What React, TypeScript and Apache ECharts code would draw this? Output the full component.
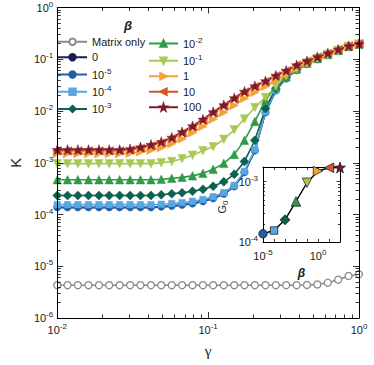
import React, { useEffect, useRef } from "react";
import * as echarts from "echarts";

// gamma sample points (x)
const gamma = [
  0.01, 0.0117, 0.0137, 0.0161, 0.0189, 0.0221, 0.0259, 0.0304, 0.0356, 0.0418,
  0.0489, 0.0574, 0.0672, 0.0788, 0.0924, 0.108, 0.127, 0.149, 0.174, 0.204,
  0.24, 0.281, 0.329, 0.386, 0.452, 0.53, 0.621, 0.728, 0.853, 1.0,
];

const kMatrix = [
  4.3e-6, 4.3e-6, 4.3e-6, 4.3e-6, 4.3e-6, 4.3e-6, 4.3e-6, 4.3e-6, 4.3e-6, 4.3e-6,
  4.3e-6, 4.3e-6, 4.3e-6, 4.3e-6, 4.3e-6, 4.3e-6, 4.3e-6, 4.3e-6, 4.3e-6, 4.3e-6,
  4.3e-6, 4.3e-6, 4.3e-6, 4.3e-6, 4.35e-6, 4.45e-6, 4.8e-6, 5.5e-6, 6.5e-6, 7.0e-6,
];
const kBeta0 = [
  1.36e-4, 1.36e-4, 1.36e-4, 1.36e-4, 1.36e-4, 1.36e-4, 1.36e-4, 1.36e-4, 1.36e-4, 1.36e-4,
  1.4e-4, 1.45e-4, 1.52e-4, 1.62e-4, 1.78e-4, 2.04e-4, 2.48e-4, 3.45e-4, 6.4e-4, 1.7e-3,
  9.3e-3, 2.48e-2, 4.24e-2, 6.2e-2, 8.1e-2, 0.101, 0.123, 0.147, 0.176, 0.196,
];
const kBeta1e5 = [
  1.38e-4, 1.38e-4, 1.38e-4, 1.38e-4, 1.38e-4, 1.38e-4, 1.38e-4, 1.38e-4, 1.38e-4, 1.38e-4,
  1.42e-4, 1.47e-4, 1.54e-4, 1.64e-4, 1.8e-4, 2.06e-4, 2.51e-4, 3.5e-4, 6.53e-4, 1.73e-3,
  9.4e-3, 2.5e-2, 4.26e-2, 6.21e-2, 8.1e-2, 0.101, 0.124, 0.148, 0.177, 0.197,
];
const kBeta1e4 = [
  1.55e-4, 1.55e-4, 1.55e-4, 1.55e-4, 1.55e-4, 1.55e-4, 1.55e-4, 1.55e-4, 1.55e-4, 1.55e-4,
  1.58e-4, 1.63e-4, 1.7e-4, 1.8e-4, 1.95e-4, 2.2e-4, 2.65e-4, 3.65e-4, 6.8e-4, 1.8e-3,
  9.6e-3, 2.52e-2, 4.28e-2, 6.25e-2, 8.15e-2, 0.102, 0.124, 0.148, 0.177, 0.197,
];
const kBeta1e3 = [
  2.33e-4, 2.33e-4, 2.33e-4, 2.33e-4, 2.33e-4, 2.33e-4, 2.33e-4, 2.33e-4, 2.33e-4, 2.33e-4,
  2.4e-4, 2.51e-4, 2.62e-4, 2.81e-4, 3.06e-4, 3.5e-4, 4.28e-4, 5.97e-4, 1.06e-3, 2.71e-3,
  1.12e-2, 2.73e-2, 4.46e-2, 6.36e-2, 8.3e-2, 0.102, 0.124, 0.148, 0.177, 0.197,
];
const kBeta1e2 = [
  4.7e-4, 4.7e-4, 4.7e-4, 4.7e-4, 4.7e-4, 4.7e-4, 4.7e-4, 4.7e-4, 4.7e-4, 4.7e-4,
  4.78e-4, 5.0e-4, 5.22e-4, 5.58e-4, 6.24e-4, 7.46e-4, 9.73e-4, 1.45e-3, 2.71e-3, 6.3e-3,
  1.6e-2, 2.99e-2, 4.66e-2, 6.5e-2, 8.4e-2, 0.103, 0.124, 0.148, 0.177, 0.197,
];
const kBeta1e1 = [
  9.6e-4, 9.6e-4, 9.6e-4, 9.6e-4, 9.6e-4, 9.6e-4, 9.6e-4, 9.6e-4, 9.6e-4, 9.6e-4,
  9.96e-4, 1.06e-3, 1.19e-3, 1.39e-3, 1.7e-3, 2.03e-3, 2.83e-3, 4.32e-3, 7.03e-3, 1.17e-2,
  1.83e-2, 3.05e-2, 4.76e-2, 6.5e-2, 8.48e-2, 0.104, 0.124, 0.148, 0.177, 0.197,
];
const kBeta1 = [
  1.5e-3, 1.5e-3, 1.5e-3, 1.5e-3, 1.5e-3, 1.5e-3, 1.5e-3, 1.53e-3, 1.62e-3, 1.75e-3,
  1.94e-3, 2.32e-3, 2.89e-3, 3.78e-3, 5.04e-3, 6.89e-3, 9.4e-3, 1.28e-2, 1.75e-2, 2.29e-2,
  2.99e-2, 3.9e-2, 5.09e-2, 6.65e-2, 8.48e-2, 0.104, 0.124, 0.148, 0.177, 0.197,
];
const kBeta10 = [
  1.7e-3, 1.7e-3, 1.7e-3, 1.7e-3, 1.7e-3, 1.7e-3, 1.7e-3, 1.76e-3, 1.91e-3, 2.13e-3,
  2.43e-3, 2.94e-3, 3.76e-3, 4.9e-3, 6.6e-3, 9.2e-3, 1.26e-2, 1.73e-2, 2.32e-2, 2.97e-2,
  3.73e-2, 4.78e-2, 6.0e-2, 7.7e-2, 9.2e-2, 0.11, 0.13, 0.154, 0.181, 0.199,
];
const kBeta100 = [
  1.79e-3, 1.79e-3, 1.79e-3, 1.79e-3, 1.79e-3, 1.79e-3, 1.79e-3, 1.85e-3, 2.01e-3, 2.24e-3,
  2.55e-3, 3.09e-3, 3.95e-3, 5.15e-3, 6.89e-3, 9.6e-3, 1.31e-2, 1.79e-2, 2.39e-2, 3.05e-2,
  3.81e-2, 4.86e-2, 6.08e-2, 7.76e-2, 9.27e-2, 0.111, 0.131, 0.155, 0.181, 0.199,
];

// inset: G0 vs beta
const insetBeta = [1e-5, 1e-4, 1e-3, 1e-2, 1e-1, 1, 10, 100];
const insetG0 = [1.37e-4, 1.55e-4, 2.33e-4, 4.7e-4, 9.6e-4, 1.5e-3, 1.7e-3, 1.72e-3];

const seriesNames = ["Matrix only", "0", "10^-5", "10^-4", "10^-3", "10^-2", "10^-1", "1", "10", "100"];
const seriesValues = [kMatrix, kBeta0, kBeta1e5, kBeta1e4, kBeta1e3, kBeta1e2, kBeta1e1, kBeta1, kBeta10, kBeta100];

const STAR = "path://M50 0 L61.76 33.82 L97.55 34.55 L69.02 56.18 L79.39 90.45 L50 70 L20.61 90.45 L30.98 56.18 L2.45 34.55 L38.24 33.82 Z";

const styles = [
  { color: "#8a8a8a", symbol: "circle", size: 7, rotate: 0, hollow: true },
  { color: "#1a1a55", symbol: "circle", size: 4.5, rotate: 0 },
  { color: "#1f5fa8", symbol: "circle", size: 7.5, rotate: 0 },
  { color: "#5aa6e0", symbol: "rect", size: 6.5, rotate: 0 },
  { color: "#0c6150", symbol: "diamond", size: 9, rotate: 0 },
  { color: "#2f9a47", symbol: "triangle", size: 8.5, rotate: 0 },
  { color: "#a9c852", symbol: "triangle", size: 8.5, rotate: 180 },
  { color: "#f4a23a", symbol: "triangle", size: 8.5, rotate: -90 },
  { color: "#d8552a", symbol: "triangle", size: 8.5, rotate: 90 },
  { color: "#7a1b2c", symbol: STAR, size: 10, rotate: 0 },
];

const FONT = "'Liberation Sans', Arial, Helvetica, sans-serif";
const TXT = "#1a1a1a";

const supRich = {
  sup: { fontSize: 8, fontFamily: FONT, color: TXT, padding: [0, 0, 7, 0] },
  sub: { fontSize: 8, fontFamily: FONT, color: TXT, padding: [7, 0, 0, 0] },
};

function pow10Label(v: number) {
  const e = Math.round(Math.log10(v));
  return `10{sup|${e}}`;
}

function decades(from: number, to: number) {
  const out: number[] = [];
  for (let e = from; e <= to; e++) out.push(Math.pow(10, e));
  return out;
}
function minors(from: number, to: number) {
  const out: number[] = [];
  for (let e = from; e < to; e++) for (let k = 2; k <= 9; k++) out.push(k * Math.pow(10, e));
  return out;
}

function axis(o: any) {
  return {
    type: "log",
    logBase: 10,
    gridIndex: o.grid,
    position: o.position,
    min: o.min,
    max: o.max,
    z: o.z ?? 3,
    name: o.name,
    nameLocation: "middle",
    nameGap: o.nameGap,
    nameRotate: o.nameRotate,
    nameTextStyle: o.nameTextStyle,
    axisLine: { show: o.line !== false, onZero: false, lineStyle: { color: "#000", width: 1 } },
    axisTick: {
      show: true,
      inside: true,
      length: o.tickLen,
      customValues: o.ticks,
      lineStyle: { color: "#000", width: 0.8 },
    },
    minorTick: { show: false },
    splitLine: { show: false },
    axisLabel: o.labels
      ? {
          show: true,
          customValues: o.labels,
          formatter: (v: number) => pow10Label(v),
          fontSize: 11,
          fontFamily: FONT,
          color: TXT,
          margin: o.margin ?? 5,
          rich: supRich,
        }
      : { show: false },
  };
}

export default function App() {
  const ref = useRef<HTMLDivElement>(null);

  useEffect(() => {
    if (!ref.current) return;
    const chart = echarts.init(ref.current, null, { renderer: "svg" });

    const xMaj = decades(-2, 0);
    const xMin = minors(-2, 0);
    const yMaj = decades(-6, 0);
    const yMin = minors(-6, 0);
    const ixMaj = decades(-5, 2);
    const iyMaj = decades(-4, -3);
    const iyMin = minors(-4, -3);

    const xAxes = [
      axis({ grid: 0, position: "bottom", min: 0.01, max: 1, ticks: xMaj, tickLen: 6, labels: xMaj, margin: 4,
        name: "γ", nameGap: 25, nameTextStyle: { fontSize: 15, fontFamily: "'Liberation Serif', serif", color: TXT } }),
      axis({ grid: 0, position: "bottom", min: 0.01, max: 1, ticks: xMin, tickLen: 3.5, line: false }),
      axis({ grid: 0, position: "top", min: 0.01, max: 1, ticks: xMaj, tickLen: 6 }),
      axis({ grid: 0, position: "top", min: 0.01, max: 1, ticks: xMin, tickLen: 3.5, line: false }),
      axis({ grid: 1, position: "bottom", min: 1e-5, max: 100, ticks: ixMaj, tickLen: 3, labels: [1e-5, 1], margin: 6, z: 8,
        name: "β", nameGap: 25, nameTextStyle: { fontSize: 12, fontWeight: "bold", fontStyle: "italic", fontFamily: FONT, color: TXT } }),
      axis({ grid: 1, position: "top", min: 1e-5, max: 100, ticks: ixMaj, tickLen: 3, z: 8 }),
    ];
    const yAxes = [
      axis({ grid: 0, position: "left", min: 1e-6, max: 1, ticks: yMaj, tickLen: 6, labels: yMaj, margin: 4,
        name: "K", nameGap: 31, nameRotate: 90, nameTextStyle: { fontSize: 15, fontFamily: FONT, color: TXT } }),
      axis({ grid: 0, position: "left", min: 1e-6, max: 1, ticks: yMin, tickLen: 3.5, line: false }),
      axis({ grid: 0, position: "right", min: 1e-6, max: 1, ticks: yMaj, tickLen: 6 }),
      axis({ grid: 0, position: "right", min: 1e-6, max: 1, ticks: yMin, tickLen: 3.5, line: false }),
      axis({ grid: 1, position: "left", min: 1e-4, max: 1.75e-3, ticks: iyMaj, tickLen: 3.5, labels: iyMaj, margin: 5, z: 8 }),
      axis({ grid: 1, position: "left", min: 1e-4, max: 1.75e-3, ticks: iyMin, tickLen: 2, line: false, z: 8 }),
      axis({ grid: 1, position: "right", min: 1e-4, max: 1.75e-3, ticks: iyMaj, tickLen: 3.5, z: 8 }),
      axis({ grid: 1, position: "right", min: 1e-4, max: 1.75e-3, ticks: iyMin, tickLen: 2, line: false, z: 8 }),
    ];

    const mainSeries = seriesNames.map((name, si) => {
      const st = styles[si];
      return {
        name,
        type: "line",
        xAxisIndex: 0,
        yAxisIndex: 0,
        data: gamma.map((g, i) => [g, seriesValues[si][i]]),
        symbol: st.symbol,
        symbolSize: st.size,
        symbolRotate: st.rotate,
        showAllSymbol: true,
        clip: false,
        z: 2,
        lineStyle: { color: st.color, width: 1.6 },
        itemStyle: st.hollow
          ? { color: "#ffffff", borderColor: st.color, borderWidth: 1.3 }
          : { color: st.color, borderColor: st.color, borderWidth: 0.5 },
      };
    });

    const insetSeries = {
      name: "inset",
      type: "line",
      xAxisIndex: 4,
      yAxisIndex: 4,
      z: 9,
      clip: false,
      lineStyle: { color: "#000", width: 1.4 },
      data: insetBeta.map((b, i) => {
        const st = styles[i + 2];
        return {
          value: [b, insetG0[i]],
          symbol: st.symbol,
          symbolSize: st.size + 1,
          symbolRotate: st.rotate,
          itemStyle: { color: st.color, borderColor: "#111", borderWidth: 0.7 },
        };
      }),
    };

    const legendCommon = {
      orient: "vertical",
      top: 36,
      padding: 0,
      itemWidth: 29,
      itemHeight: 8,
      itemGap: 4,
      textStyle: { fontSize: 11, fontFamily: FONT, color: TXT, lineHeight: 11.5, rich: supRich },
      formatter: (name: string) => name.replace(/\^(.*)$/, "{sup|$1}"),
    };

    chart.setOption({
      animation: false,
      backgroundColor: "#ffffff",
      grid: [
        { left: 47, top: 7, width: 312, height: 311, containLabel: false },
        { left: 263, top: 167, width: 77, height: 75, show: true, backgroundColor: "#ffffff", borderWidth: 0, z: 6 },
      ],
      xAxis: xAxes,
      yAxis: yAxes,
      legend: [
        { ...legendCommon, left: 57, data: seriesNames.slice(0, 5) },
        { ...legendCommon, left: 148, data: seriesNames.slice(5) },
      ],
      graphic: [
        {
          type: "text",
          left: 124,
          top: 19,
          style: { text: "β", fontSize: 13, fontWeight: "bold", fontStyle: "italic", fontFamily: FONT, fill: TXT },
        },
        {
          type: "text",
          x: 222,
          y: 207,
          rotation: Math.PI / 2,
          z: 10,
          style: {
            text: "G{sub|0}",
            fontSize: 11,
            fontFamily: FONT,
            fill: TXT,
            align: "center",
            verticalAlign: "middle",
            rich: supRich,
          },
        },
      ],
      series: [...mainSeries, insetSeries],
    });

    return () => chart.dispose();
  }, []);

  return (
    <div
      ref={ref}
      style={{ position: "absolute", left: 0, top: 0, width: 374, height: 365, background: "#fff" }}
    />
  );
}
